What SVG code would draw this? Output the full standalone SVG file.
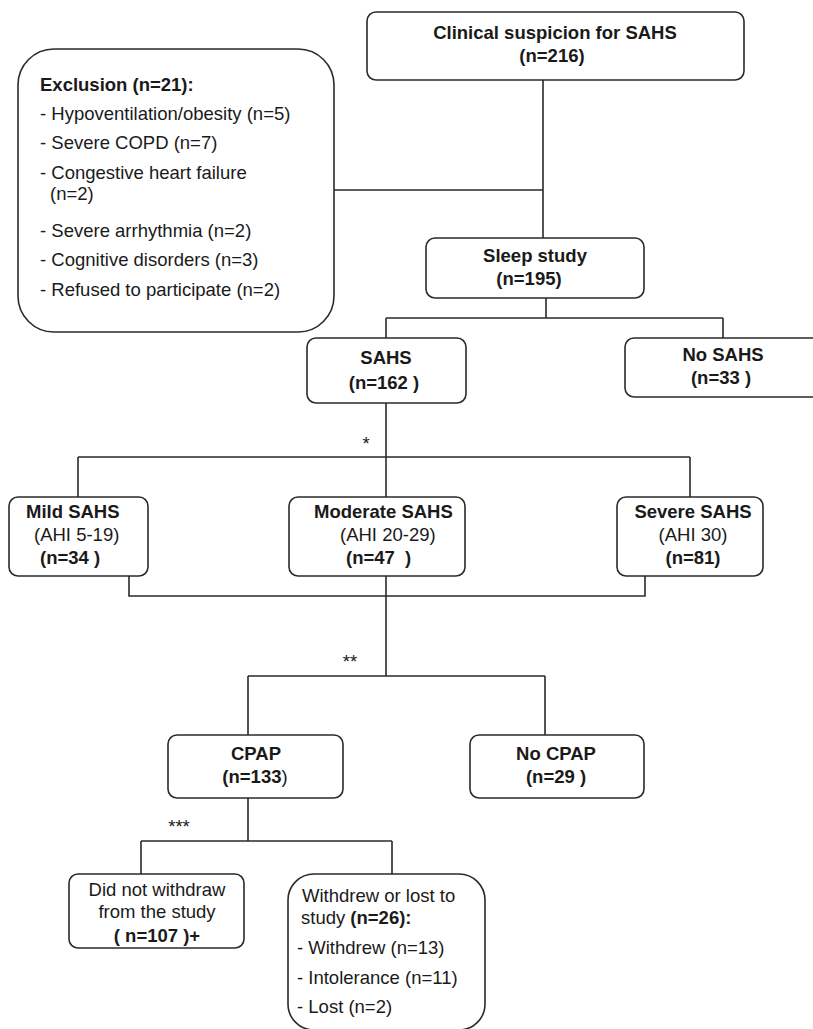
<svg xmlns="http://www.w3.org/2000/svg" width="813" height="1029" viewBox="0 0 813 1029">
<style>
text{font-family:"Liberation Sans",Arial,Helvetica,sans-serif;font-size:18.5px;fill:#1a1a1a}
.b{font-weight:bold}
.c{text-anchor:middle}
.box{fill:#fff;stroke:#2a2a2a;stroke-width:1.6}
.ln{fill:none;stroke:#2a2a2a;stroke-width:1.6}
</style>
<rect width="813" height="1029" fill="#fff"/>
<g id="connectors">
<path class="ln" d="M543 80V238M334 190H543"/>
<path class="ln" d="M546 298V318M386 318H723M386 318V338M723 318V338"/>
<path class="ln" d="M386 403V497M78 457H690M78 457V497M690 457V497"/>
<path class="ln" d="M129 576V596H645V576M386 576V676M248 676H545M248 676V735M545 676V735"/>
<path class="ln" d="M248 798V841M141 841H392M141 841V874M392 841V874"/>
<text x="366" y="450" class="c">*</text>
<text x="350" y="668" class="c">**</text>
<text x="179" y="833" class="c">***</text>
</g>
<g id="clinical">
<rect class="box" x="367" y="12" width="377" height="68" rx="9"/>
<text x="555" y="39" class="b c">Clinical suspicion for SAHS</text>
<text x="552" y="62" class="b c">(n=216)</text>
</g>
<g id="exclusion">
<rect class="box" x="18" y="49" width="316" height="283" rx="36"/>
<text x="40" y="91" class="b">Exclusion (n=21):</text>
<text x="40" y="120">- Hypoventilation/obesity (n=5)</text>
<text x="40" y="149">- Severe COPD (n=7)</text>
<text x="40" y="179">- Congestive heart failure</text>
<text x="50" y="200">(n=2)</text>
<text x="40" y="237">- Severe arrhythmia (n=2)</text>
<text x="40" y="266">- Cognitive disorders (n=3)</text>
<text x="40" y="296">- Refused to participate (n=2)</text>
</g>
<g id="sleep">
<rect class="box" x="426" y="238" width="218" height="60" rx="9"/>
<text x="535" y="262" class="b c">Sleep study</text>
<text x="529" y="285" class="b c">(n=195)</text>
</g>
<g id="sahs">
<rect class="box" x="307" y="338" width="159" height="65" rx="9"/>
<text x="386" y="364" class="b c">SAHS</text>
<text x="384" y="389" class="b c">(n=162 )</text>
</g>
<g id="nosahs">
<rect class="box" x="625" y="338" width="200" height="59" rx="9"/>
<text x="723" y="361" class="b c">No SAHS</text>
<text x="721" y="384" class="b c">(n=33 )</text>
</g>
<g id="mild">
<rect class="box" x="9" y="497" width="139" height="79" rx="9"/>
<text x="26" y="518" class="b">Mild SAHS</text>
<text x="34" y="541">(AHI 5-19)</text>
<text x="40" y="564" class="b">(n=34 )</text>
</g>
<g id="moderate">
<rect class="box" x="289" y="497" width="176" height="79" rx="9"/>
<text x="314" y="518" class="b">Moderate SAHS</text>
<text x="340" y="541">(AHI 20-29)</text>
<text x="346" y="564" class="b">(n=47&#160; )</text>
</g>
<g id="severe">
<rect class="box" x="617" y="497" width="146" height="79" rx="9"/>
<text x="693" y="518" class="b c">Severe SAHS</text>
<text x="693" y="541" class="c">(AHI 30)</text>
<text x="693" y="564" class="b c">(n=81)</text>
</g>
<g id="cpap">
<rect class="box" x="168" y="735" width="175" height="63" rx="9"/>
<text x="256" y="760" class="b c">CPAP</text>
<text x="255" y="783" class="c"><tspan class="b">(n=133</tspan>)</text>
</g>
<g id="nocpap">
<rect class="box" x="470" y="735" width="174" height="63" rx="9"/>
<text x="556" y="760" class="b c">No CPAP</text>
<text x="556" y="783" class="b c">(n=29 )</text>
</g>
<g id="notwithdraw">
<rect class="box" x="69" y="874" width="175" height="74" rx="9"/>
<text x="157" y="896" class="c">Did not withdraw</text>
<text x="157" y="918" class="c">from the study</text>
<text x="157" y="942" class="b c">( n=107 )+</text>
</g>
<g id="withdrew">
<rect class="box" x="288" y="874" width="197" height="156" rx="26"/>
<text x="302" y="902">Withdrew or lost to</text>
<text x="301" y="924">study <tspan class="b">(n=26):</tspan></text>
<text x="297" y="954">- Withdrew (n=13)</text>
<text x="297" y="984">- Intolerance (n=11)</text>
<text x="297" y="1013">- Lost (n=2)</text>
</g>
</svg>
